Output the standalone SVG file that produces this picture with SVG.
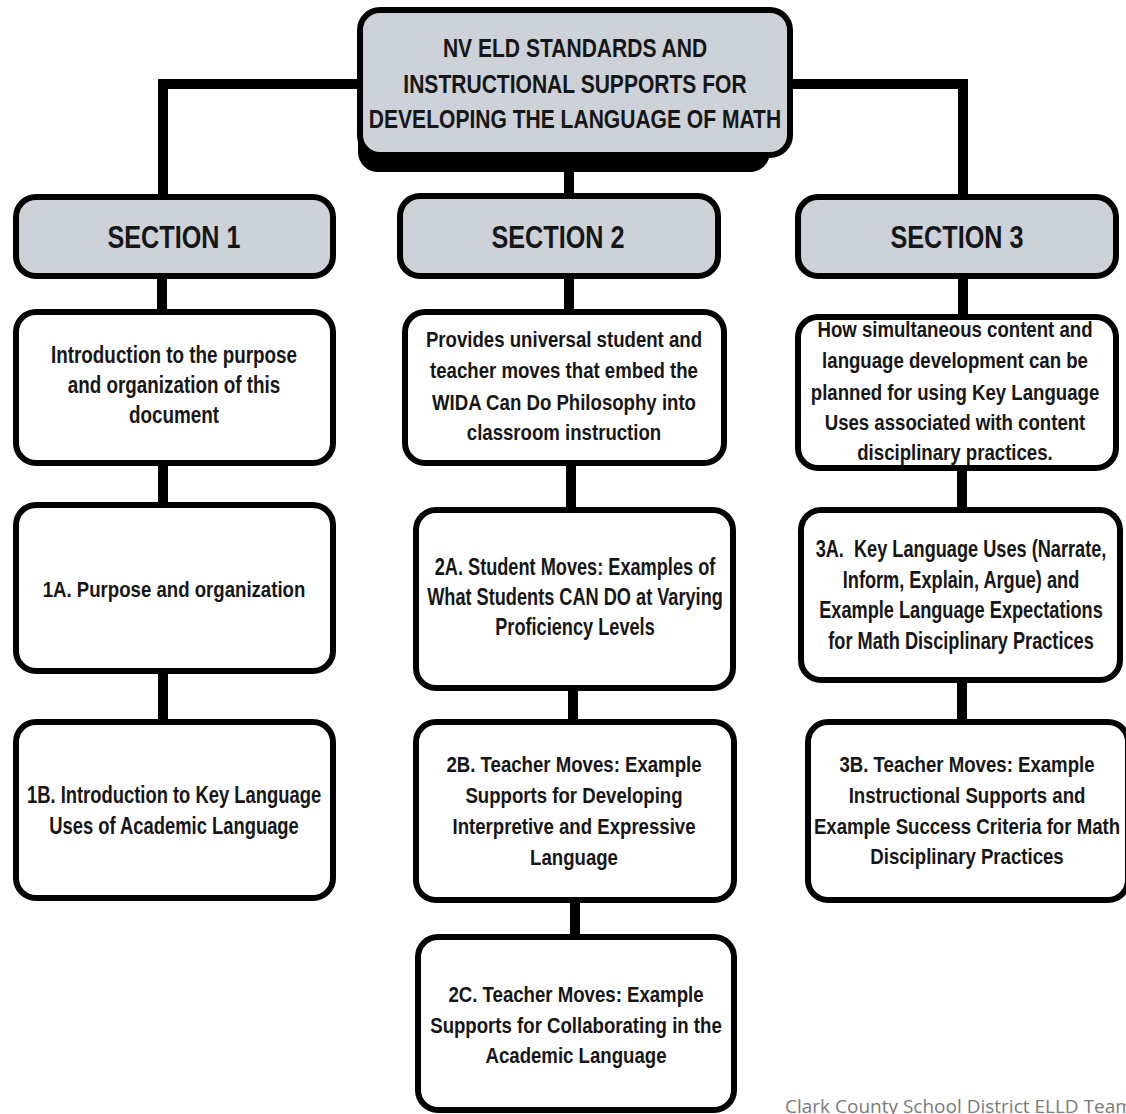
<svg xmlns="http://www.w3.org/2000/svg" width="1126" height="1114" viewBox="0 0 1126 1114">
<style>
.box{fill:#ffffff;stroke:#000;stroke-width:6}
.hdr{fill:#cdd1d8;stroke:#000;stroke-width:6}
.con{fill:none;stroke:#000;stroke-width:10;stroke-linejoin:miter}
text{font-family:"Liberation Sans","DejaVu Sans",sans-serif;font-weight:bold;fill:#161616;text-anchor:middle}
.t{font-size:23px}
.ti{font-size:26px}
.sh{font-size:32px}
.ft{font-family:"Open Sans","Noto Sans",sans-serif;font-weight:normal;font-size:19px;fill:#7a7a7a;text-anchor:start}
</style>
<rect width="1126" height="1114" fill="#fff"/>
<g id="connectors">
<path class="con" d="M360 84 H163 V197"/>
<path class="con" d="M790 84 H963 V197"/>
<path class="con" d="M569 170 V197"/>
<path class="con" d="M162 276 V312"/>
<path class="con" d="M163 463 V505"/>
<path class="con" d="M163 671 V722"/>
<path class="con" d="M569 276 V312"/>
<path class="con" d="M571 463 V510"/>
<path class="con" d="M573 688 V722"/>
<path class="con" d="M575 900 V937"/>
<path class="con" d="M963 276 V317"/>
<path class="con" d="M962 468 V510"/>
<path class="con" d="M962 680 V722"/>
</g>
<g id="title">
<rect x="358" y="22" width="412" height="150" rx="20" fill="#000"/>
<rect class="hdr" x="360" y="10" width="430" height="145" rx="20"/>
<g transform="translate(575 0) scale(0.81 1)">
<text class="ti" x="0" y="57">NV ELD STANDARDS AND</text>
<text class="ti" x="0" y="93">INSTRUCTIONAL SUPPORTS FOR</text>
<text class="ti" x="0" y="128">DEVELOPING THE LANGUAGE OF MATH</text>
</g>
</g>
<g id="section1">
<rect class="hdr" x="16" y="197" width="317" height="79" rx="20"/>
<text class="sh" x="174" y="248" textLength="133" lengthAdjust="spacingAndGlyphs">SECTION 1</text>
</g>
<g id="section2">
<rect class="hdr" x="400" y="196" width="318" height="80" rx="20"/>
<text class="sh" x="558" y="248" textLength="133" lengthAdjust="spacingAndGlyphs">SECTION 2</text>
</g>
<g id="section3">
<rect class="hdr" x="798" y="197" width="318" height="79" rx="20"/>
<text class="sh" x="957" y="248" textLength="133" lengthAdjust="spacingAndGlyphs">SECTION 3</text>
</g>
<g id="intro1">
<rect class="box" x="16" y="312" width="317" height="151" rx="20"/>
<g transform="translate(174 0) scale(0.82 1)">
<text class="t" x="0" y="363">Introduction to the purpose</text>
<text class="t" x="0" y="393">and organization of this</text>
<text class="t" x="0" y="423">document</text>
</g>
</g>
<g id="intro2">
<rect class="box" x="405" y="312" width="319" height="151" rx="20"/>
<g transform="translate(564 0) scale(0.81 1)">
<text class="t" x="0" y="347">Provides universal student and</text>
<text class="t" x="0" y="378">teacher moves that embed the</text>
<text class="t" x="0" y="410">WIDA Can Do Philosophy into</text>
<text class="t" x="0" y="440">classroom instruction</text>
</g>
</g>
<g id="intro3">
<rect class="box" x="798" y="317" width="318" height="151" rx="20"/>
<g transform="translate(955 0) scale(0.81 1)">
<text class="t" x="0" y="337">How simultaneous content and</text>
<text class="t" x="0" y="368">language development can be</text>
<text class="t" x="0" y="400">planned for using Key Language</text>
<text class="t" x="0" y="430">Uses associated with content</text>
<text class="t" x="0" y="460">disciplinary practices.</text>
</g>
</g>
<g id="n1A">
<rect class="box" x="16" y="505" width="317" height="166" rx="20"/>
<g transform="translate(174 0) scale(0.81 1)">
<text class="t" x="0" y="597">1A. Purpose and organization</text>
</g>
</g>
<g id="n1B">
<rect class="box" x="16" y="722" width="317" height="176" rx="20"/>
<g transform="translate(174 0) scale(0.80 1)">
<text class="t" x="0" y="803">1B. Introduction to Key Language</text>
<text class="t" x="0" y="834">Uses of Academic Language</text>
</g>
</g>
<g id="n2A">
<rect class="box" x="416" y="510" width="317" height="178" rx="20"/>
<g transform="translate(575 0) scale(0.79 1)">
<text class="t" x="0" y="575">2A. Student Moves: Examples of</text>
<text class="t" x="0" y="605">What Students CAN DO at Varying</text>
<text class="t" x="0" y="635">Proficiency Levels</text>
</g>
</g>
<g id="n2B">
<rect class="box" x="416" y="722" width="318" height="178" rx="20"/>
<g transform="translate(574 0) scale(0.81 1)">
<text class="t" x="0" y="772">2B. Teacher Moves: Example</text>
<text class="t" x="0" y="803">Supports for Developing</text>
<text class="t" x="0" y="834">Interpretive and Expressive</text>
<text class="t" x="0" y="865">Language</text>
</g>
</g>
<g id="n2C">
<rect class="box" x="418" y="937" width="316" height="173" rx="20"/>
<g transform="translate(576 0) scale(0.81 1)">
<text class="t" x="0" y="1002">2C. Teacher Moves: Example</text>
<text class="t" x="0" y="1033">Supports for Collaborating in the</text>
<text class="t" x="0" y="1063">Academic Language</text>
</g>
</g>
<g id="n3A">
<rect class="box" x="801" y="510" width="319" height="170" rx="20"/>
<g transform="translate(961 0) scale(0.79 1)">
<text class="t" x="0" y="557" xml:space="preserve">3A.  Key Language Uses (Narrate,</text>
<text class="t" x="0" y="588">Inform, Explain, Argue) and</text>
<text class="t" x="0" y="618">Example Language Expectations</text>
<text class="t" x="0" y="649">for Math Disciplinary Practices</text>
</g>
</g>
<g id="n3B">
<rect class="box" x="808" y="722" width="320" height="178" rx="20"/>
<g transform="translate(967 0) scale(0.81 1)">
<text class="t" x="0" y="772">3B. Teacher Moves: Example</text>
<text class="t" x="0" y="803">Instructional Supports and</text>
<text class="t" x="0" y="834">Example Success Criteria for Math</text>
<text class="t" x="0" y="864">Disciplinary Practices</text>
</g>
</g>
<g id="footer">
<text class="ft" x="785" y="1113">Clark County School District ELLD Team</text>
</g>
</svg>
